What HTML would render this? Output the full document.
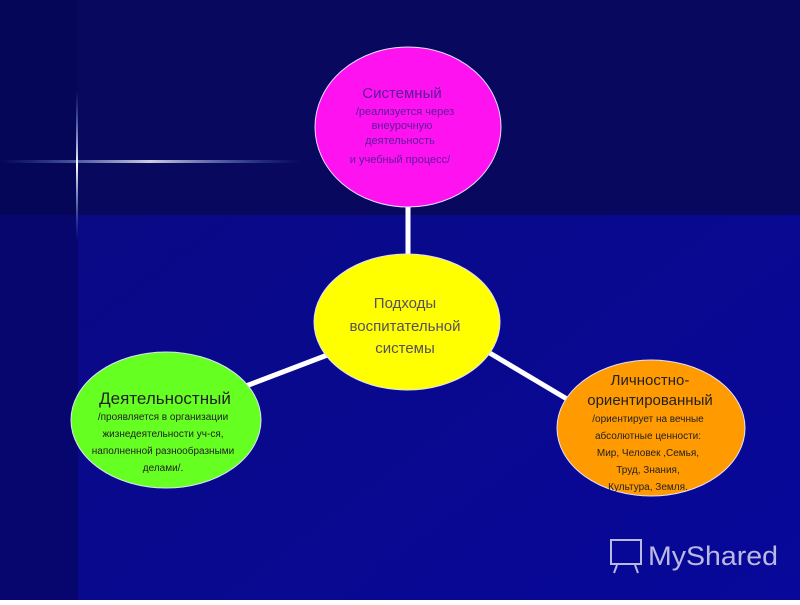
<!DOCTYPE html>
<html><head><meta charset="utf-8"><style>
body{margin:0;width:800px;height:600px;overflow:hidden;font-family:"Liberation Sans","DejaVu Sans",sans-serif}
</style></head><body>
<svg width="800" height="600" viewBox="0 0 800 600" xmlns="http://www.w3.org/2000/svg">
<defs>
<linearGradient id="bg" x1="0" y1="0" x2="1" y2="1">
<stop offset="0" stop-color="#0a0a80"/><stop offset="1" stop-color="#08089a"/>
</linearGradient>
<linearGradient id="hl" x1="0" y1="0" x2="1" y2="0">
<stop offset="0" stop-color="#6fa0ff" stop-opacity="0"/><stop offset="0.5" stop-color="#ffffff"/><stop offset="1" stop-color="#6fa0ff" stop-opacity="0"/>
</linearGradient>
<linearGradient id="vl" x1="0" y1="0" x2="0" y2="1">
<stop offset="0" stop-color="#6fa0ff" stop-opacity="0"/><stop offset="0.5" stop-color="#ffffff"/><stop offset="1" stop-color="#6fa0ff" stop-opacity="0"/>
</linearGradient>
</defs>
<rect width="800" height="600" fill="url(#bg)"/>
<rect x="0" y="0" width="800" height="215" fill="#08085e"/>
<rect x="0" y="0" width="78" height="600" fill="#06066e"/>
<rect x="0" y="0" width="78" height="215" fill="#060658"/>
<rect x="0" y="160" width="300" height="3" fill="url(#hl)" opacity="0.8"/>
<rect x="76" y="90" width="2" height="150" fill="url(#vl)"/>
<g stroke="#ffffff" stroke-width="5">
<line x1="408" y1="205" x2="408" y2="256"/>
<line x1="246" y1="386" x2="330" y2="354"/>
<line x1="488" y1="352" x2="572" y2="402"/>
</g>
<g stroke="#e0e0ff" stroke-width="1">
<ellipse cx="408" cy="127" rx="93" ry="80" fill="#ff12f0"/>
<ellipse cx="407" cy="322" rx="93" ry="68" fill="#ffff00"/>
<ellipse cx="166" cy="420" rx="95" ry="68" fill="#66ff22"/>
<ellipse cx="651" cy="428" rx="94" ry="68" fill="#ff9a00"/>
</g>
<g text-anchor="middle" fill="#5a1a9a">
<text x="402" y="98" font-size="15">Системный</text>
<text x="405" y="115" font-size="11">/реализуется через</text>
<text x="402" y="129" font-size="11">внеурочную</text>
<text x="400" y="144" font-size="11">деятельность</text>
<text x="400" y="163" font-size="11">и учебный процесс/</text>
</g>
<g text-anchor="middle" fill="#555060" font-size="15">
<text x="405" y="308">Подходы</text>
<text x="405" y="331">воспитательной</text>
<text x="405" y="353">системы</text>
</g>
<g text-anchor="middle" fill="#222">
<text x="165" y="404" font-size="17">Деятельностный</text>
<text x="163" y="420" font-size="10">/проявляется в организации</text>
<text x="163" y="437" font-size="10">жизнедеятельности уч-ся,</text>
<text x="163" y="454" font-size="10">наполненной разнообразными</text>
<text x="163" y="471" font-size="10">делами/.</text>
</g>
<g text-anchor="middle" fill="#222">
<text x="650" y="385" font-size="15">Личностно-</text>
<text x="650" y="405" font-size="15">ориентированный</text>
<text x="648" y="422" font-size="10">/ориентирует на вечные</text>
<text x="648" y="439" font-size="10">абсолютные ценности:</text>
<text x="648" y="456" font-size="10">Мир, Человек ,Семья,</text>
<text x="648" y="473" font-size="10">Труд, Знания,</text>
<text x="648" y="490" font-size="10">Культура, Земля.</text>
</g>
<g fill="none" stroke="#d8d8f0" stroke-width="2" opacity="0.85">
<rect x="611" y="540" width="30" height="24"/>
<line x1="617" y1="565" x2="614" y2="573"/><line x1="635" y1="565" x2="638" y2="573"/>
</g>
<text x="648" y="565" font-size="27" fill="#d8d8f0" opacity="0.85" textLength="130" lengthAdjust="spacingAndGlyphs">MyShared</text>
</svg>
</body></html>
